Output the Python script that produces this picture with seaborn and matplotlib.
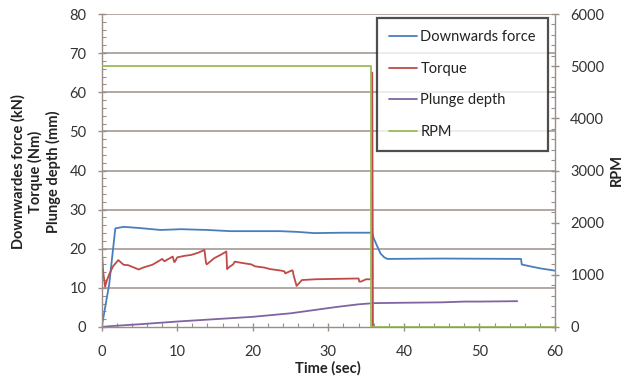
import matplotlib
matplotlib.use("Agg")
import matplotlib.pyplot as plt
import seaborn as sns
import pandas as pd
from matplotlib.ticker import MultipleLocator

# ---------------- data ----------------
force_t = [0, 1.0, 1.8, 2.9, 5, 7.8, 10.5, 14, 17, 23.6, 26, 28.1, 32, 35.8,
           36.0, 36.5, 36.9, 37.4, 37.8, 45, 55.5, 55.6, 56, 58, 60]
force_v = [0, 11, 25.2, 25.6, 25.3, 24.8, 25.0, 24.8, 24.5, 24.5, 24.3, 24.0, 24.1, 24.1,
           22.7, 20.5, 18.8, 17.8, 17.4, 17.5, 17.4, 16.0, 15.8, 15.0, 14.4]

torque_t = [0, 0.05, 0.2, 0.45, 0.7, 1.0, 1.5, 2.2, 2.9, 3.5, 4.9, 5.5, 6.7, 7.5,
            8.0, 8.3, 9.4, 9.6, 9.7, 10.0, 11.0, 11.8, 12.8, 13.6, 13.8, 13.9, 14.9,
            15.8, 16.5, 16.6, 16.7, 17.0, 17.4, 17.6, 18.5, 19.8, 20.3, 21.5, 22.3,
            23.8, 24.2, 24.3, 25.2, 25.3, 25.4, 25.8, 26.5, 28.3, 31.0, 34.0, 34.1,
            34.3, 35.0, 35.8, 35.8, 35.9]
torque_v = [0, 18.4, 14, 10.3, 12, 13.5, 15.5, 17.1, 15.9, 15.8, 14.7, 15.2, 15.9, 16.8,
            17.4, 16.8, 18.0, 16.6, 16.7, 17.8, 18.2, 18.4, 19.0, 19.7, 16.5, 16.0, 17.6,
            18.5, 19.3, 14.8, 15.0, 15.5, 16.0, 16.7, 16.4, 16.0, 15.5, 15.2, 14.8,
            14.4, 14.2, 13.7, 14.5, 14.3, 13.2, 10.5, 12.0, 12.2, 12.3, 12.4, 11.6,
            11.6, 12.2, 12.2, 65, 0]

plunge_t = [0, 1, 5, 10, 15, 20, 25, 28, 31, 34, 36, 40, 45, 48, 50, 55]
plunge_v = [0, 0.2, 0.7, 1.4, 2.0, 2.6, 3.5, 4.3, 5.1, 5.8, 6.1, 6.2, 6.3, 6.5, 6.5, 6.6]

rpm_t = [0, 35.6, 35.6, 60]
rpm_v = [5000, 5000, 0, 0]

labels = ["Downwards force", "Torque", "Plunge depth", "RPM"]
colors = ["#4A7EBB", "#BE4B48", "#8064A2", "#9BBB59"]

# ---------------- plot ----------------
sns.set_style("white")
plt.rcParams["font.family"] = ["Lato", "DejaVu Sans"]

fig = plt.figure(figsize=(6.25, 3.77), dpi=100)
ax = fig.add_axes([101.7 / 625, 1 - 327 / 377, (555 - 101.7) / 625, (327 - 14) / 377])
ax2 = ax.twinx()

grid_c = "#A49A94"
for y in range(10, 90, 10):
    ax.axhline(y, color=grid_c, lw=1.2, zorder=0)

left_series = [(force_t, force_v, labels[0], colors[0]),
               (torque_t, torque_v, labels[1], colors[1]),
               (plunge_t, plunge_v, labels[2], colors[2])]
for t, v, lab, c in left_series:
    df = pd.DataFrame({"t": t, "v": v})
    sns.lineplot(data=df, x="t", y="v", ax=ax, color=c, lw=1.3, sort=False,
                 estimator=None, label=lab, legend=False)

df_rpm = pd.DataFrame({"t": rpm_t, "v": rpm_v})
sns.lineplot(data=df_rpm, x="t", y="v", ax=ax2, color=colors[3], lw=1.3, sort=False,
             estimator=None, label=labels[3], legend=False)

ax.set_xlim(0, 60)
ax.set_ylim(0, 80)
ax2.set_ylim(0, 6000)

ax.xaxis.set_major_locator(MultipleLocator(10))
ax.xaxis.set_minor_locator(MultipleLocator(2))
ax.yaxis.set_major_locator(MultipleLocator(10))
ax.yaxis.set_minor_locator(MultipleLocator(2))
ax2.yaxis.set_major_locator(MultipleLocator(1000))
ax2.yaxis.set_minor_locator(MultipleLocator(200))

spine_c = "#9A8F88"
for a in (ax, ax2):
    for s in a.spines.values():
        s.set_color(spine_c)
        s.set_linewidth(1.0)
    a.spines["top"].set_visible(False)
ax.spines["right"].set_visible(False)
ax2.spines["left"].set_visible(False)
ax2.spines["bottom"].set_visible(False)

ax.tick_params(axis="both", which="major", direction="inout", length=6, width=1,
               color=spine_c, labelsize=10.5, labelcolor="#333333")
ax.tick_params(axis="y", which="major", pad=8, left=True)
ax.tick_params(axis="x", which="major", pad=10, bottom=True)
ax.tick_params(axis="both", which="minor", direction="in", length=3, width=0.8,
               color=spine_c, left=True, bottom=True)
ax2.tick_params(axis="y", which="major", direction="inout", length=6, width=1,
                color=spine_c, labelsize=10.5, labelcolor="#333333", pad=8, right=True)
ax2.tick_params(axis="y", which="minor", direction="in", length=3, width=0.8,
                color=spine_c, right=True)

ax.set_xlabel("")
ax.set_ylabel("")
ax2.set_ylabel("")
fig.text(328 / 625, 1 - 368 / 377, "Time (sec)", ha="center", va="center",
         fontsize=10.5, fontweight="bold", color="#222222")
fig.text(617 / 625, 1 - 170 / 377, "RPM", rotation=90, ha="center", va="center",
         fontsize=10.5, fontweight="bold", color="#222222")
fig.text(36 / 625, 1 - 172 / 377,
         "Downwardes force (kN)\nTorque (Nm)\nPlunge depth (mm)",
         rotation=90, ha="center", va="center", multialignment="center",
         fontsize=10.5, fontweight="bold", color="#222222", linespacing=1.25)

h1, l1 = ax.get_legend_handles_labels()
h2, l2 = ax2.get_legend_handles_labels()
leg = ax2.legend(h1 + h2, l1 + l2, loc="upper right", bbox_to_anchor=(0.985, 0.987),
                 borderaxespad=0, fontsize=10.5, frameon=True, fancybox=False,
                 handlelength=1.9, labelspacing=1.2, borderpad=0.85, handletextpad=0.25)
leg.get_frame().set_edgecolor("#222222")
leg.get_frame().set_linewidth(1.6)
for txt in leg.get_texts():
    txt.set_color("#222222")

fig.savefig("out.png", dpi=100)
